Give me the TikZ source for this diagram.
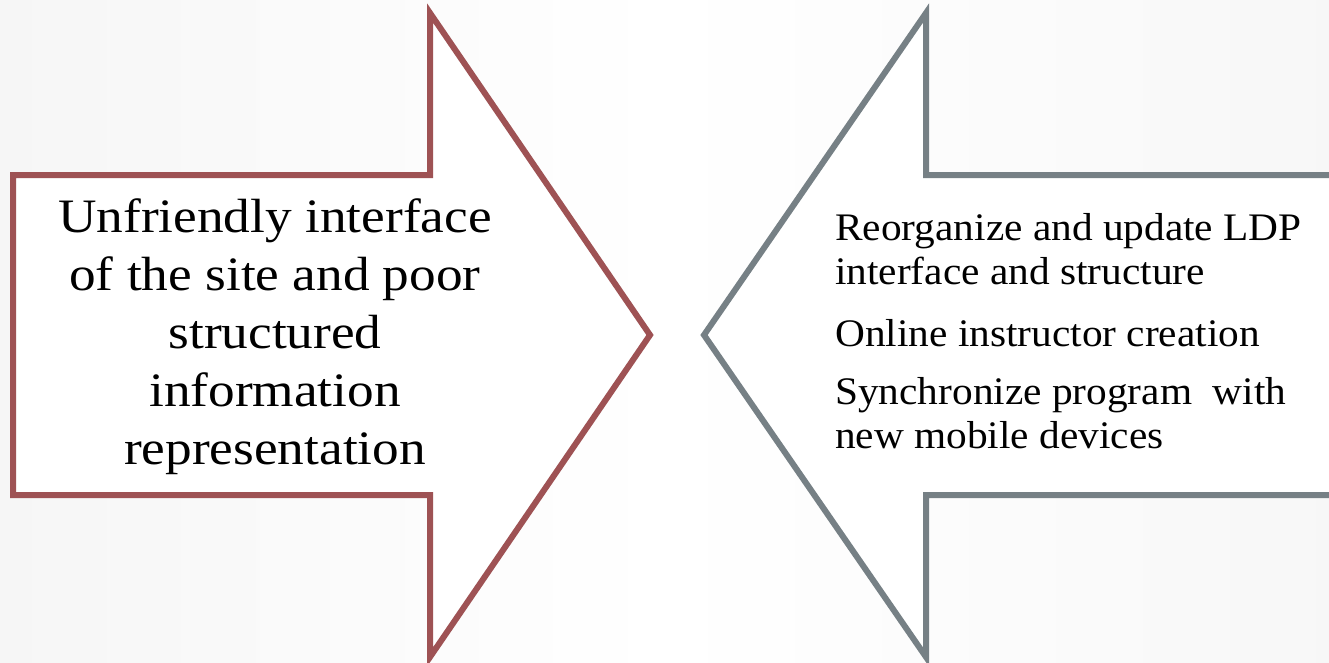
\documentclass[tikz,border=0pt]{standalone}
\usepackage{fontspec}
\setmainfont{Liberation Serif}
\newfontfamily\leftfont[FakeStretch=1.11]{Liberation Serif}
\newfontfamily\rightfont[FakeStretch=1.06]{Liberation Serif}
\definecolor{redarrow}{RGB}{158,82,84}
\definecolor{grayarrow}{RGB}{118,128,133}
\tikzset{
  arrowline/.style={line width=6pt, line join=miter, fill=white},
  lefttext/.style={align=center, font=\leftfont\fontsize{48}{58}\selectfont, inner sep=0pt, anchor=base},
  righttext/.style={align=left, font=\rightfont\fontsize{39}{44}\selectfont, inner sep=0pt, anchor=base west},
}
\begin{document}
\begin{tikzpicture}[x=1pt,y=-1pt]
  \useasboundingbox (0,0) rectangle (1329,662);
  \shade[left color=gray!7, right color=gray!6, middle color=white] (0,0) rectangle (1329,662);
  % left arrow
  \draw[arrowline, draw=redarrow] (13,175) -- (430,175) -- (430,13) -- (650,335)
       -- (430,657) -- (430,495) -- (13,495) -- cycle;
  % right arrow
  \draw[arrowline, draw=grayarrow] (1340,175) -- (926,175) -- (926,13) -- (704,335)
       -- (926,657) -- (926,495) -- (1340,495);
  % texts (anchor = baseline of the last line)
  \node[lefttext] (problem) at (275,464)
    {Unfriendly interface\\ of the site and poor\\ structured\\ information\\ representation};
  \node[righttext] (sol1) at (835,284) {Reorganize and update LDP\\ interface and structure};
  \node[righttext] (sol2) at (835,346) {Online instructor creation};
  \node[righttext] (sol3) at (835,448) {Synchronize program\ \ with\\ new mobile\ devices};
\end{tikzpicture}
\end{document}
